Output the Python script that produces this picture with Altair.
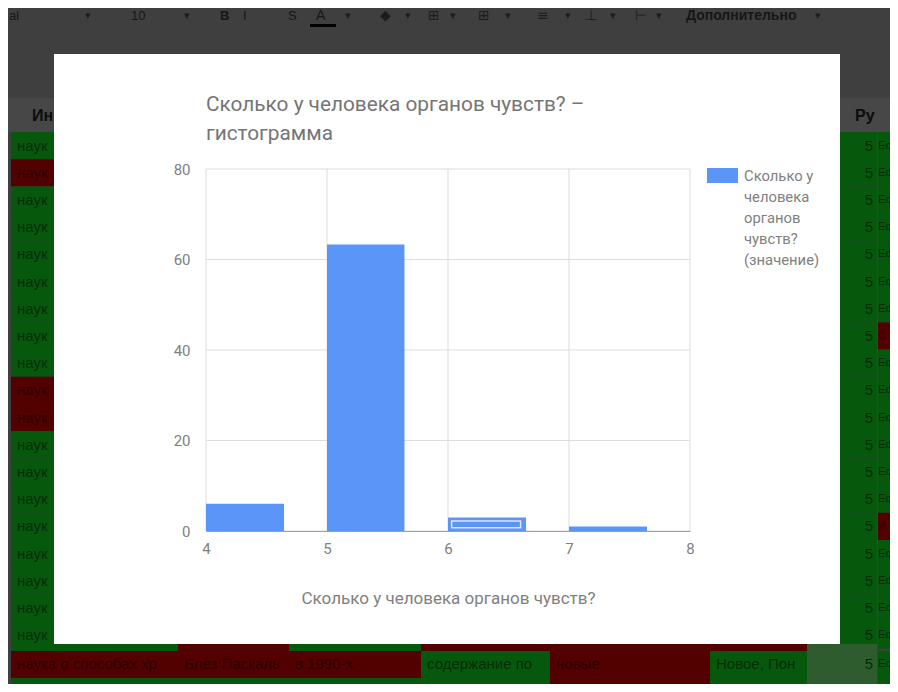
import altair as alt
import pandas as pd

# Chart data
bin_start = [4, 5, 6, 7]
bin_end = [4.645, 5.64, 6.645, 7.645]
counts = [6, 63.3, 3, 1]
x_ticks = [4, 5, 6, 7, 8]
y_ticks = [0, 20, 40, 60, 80]
title_lines = ["Сколько у человека органов чувств? –", "гистограмма"]
x_title = "Сколько у человека органов чувств?"
legend_label = "Сколько у|человека|органов|чувств?|(значение)"
selected_box = {"x": 6.03, "x2": 6.6, "y": 0.7, "y2": 2.2}

# Dimmed spreadsheet behind the dialog
GREEN, RED, SIDE = "#06580c", "#520000", "#2f5c2f"
INK_G, INK_R = "#052c08", "#300000"
left_red_rows = [1, 9, 10]
right_red_rows = [7, 14]
right_words = {7: "С", 14: "И"}
n_rows = 19
toolbar_items = [("al", 9, False, 13), ("10", 131, False, 13), ("B", 220, True, 13), ("I", 243, False, 13),
                 ("S", 288, False, 13), ("A", 316, False, 14), ("Дополнительно", 686, True, 14)]
toolbar_glyphs = [("▾", 85), ("▾", 184), ("▾", 345), ("◆", 380), ("▾", 405), ("⊞", 428), ("▾", 450),
                  ("⊞", 478), ("▾", 505), ("≡", 537), ("▾", 565), ("⊥", 585), ("▾", 610),
                  ("⊢", 635), ("▾", 656), ("▾", 815)]
strip_below = [(11, 178, GREEN), (178, 289, RED), (289, 421, GREEN), (421, 807, RED)]
bottom_a = [("наука о способах хр", 11, 178, RED), ("Блез Паскаль", 178, 289, RED),
            ("в 1990-х", 289, 421, RED), ("содержание по", 421, 550, GREEN),
            ("новые", 550, 710, RED), ("Новое, Пон", 710, 807, GREEN)]
bottom_b = [(11, 178, GREEN), (178, 289, GREEN), (289, 421, GREEN), (421, 550, GREEN),
            (550, 710, RED), (710, 807, GREEN)]

PLOT_L, PLOT_T = 206, 169
PLOT_W, PLOT_H = 484, 362
one = pd.DataFrame({"a": [0]})
layers = []


def box(x0, y0, x1, y1, fill):
    layers.append(alt.Chart(one).mark_rect(fill=fill, stroke=None).encode(
        x=alt.value(x0 - PLOT_L), x2=alt.value(x1 - PLOT_L),
        y=alt.value(y0 - PLOT_T), y2=alt.value(y1 - PLOT_T)))


def label(s, x, y, color, size=14, weight="normal", align="left", font="Roboto", **kw):
    layers.append(alt.Chart(one).mark_text(text=s, color=color, fontSize=size, fontWeight=weight,
                                           align=align, baseline="middle", font=font, **kw).encode(
        x=alt.value(x - PLOT_L), y=alt.value(y - PLOT_T)))


SHEET = "Liberation Sans"
box(8, 8, 890, 684, "#3f3f3f")
box(8, 98, 890, 132, "#474747")
for s, x, bold, size in toolbar_items:
    label(s, x, 16, "#161616", size, "bold" if bold else "normal", font=SHEET)
for s, x in toolbar_glyphs:
    label(s, x, 16, "#1c1c1c", 11 if s == "▾" else 14, font="DejaVu Sans")
box(310, 24, 336, 27, "#000000")
label("Инф", 32, 116, "#0c0c0c", 16, "bold", font=SHEET)
label("Ру", 855, 116, "#0c0c0c", 16, "bold", font=SHEET)

row_h = 27.2
for i in range(n_rows):
    y0 = 132 + i * row_h
    y1 = y0 + row_h
    if y0 >= 644:
        break
    red = i in left_red_rows
    box(11, y0, 178, y1, RED if red else GREEN)
    label("наук", 17, y0 + row_h / 2, INK_R if red else INK_G, 15, font=SHEET)
    box(840, y0, 877, y1, GREEN)
    label("5", 873, y0 + row_h / 2, INK_G, 15, align="right", font=SHEET)
    r_red = i in right_red_rows
    box(878, y0, 890, y1, RED if r_red else GREEN)
    label(right_words.get(i, "Ес"), 878, y0 + row_h / 2, INK_R if r_red else INK_G, 11.5, font=SHEET)

for x0, x1, fill in strip_below:
    box(x0, 644, x1, 651, fill)
box(807, 644, 877, 651, SIDE)

for s, x0, x1, fill in bottom_a:
    box(x0, 651, x1, 678, fill)
    label(s, x0 + 6, 664, INK_R if fill == RED else INK_G, 15, font=SHEET)
for x0, x1, fill in bottom_b:
    box(x0, 678, x1, 684, fill)
box(807, 651, 877, 684, SIDE)
box(878, 651, 890, 684, GREEN)
label("5", 873, 664, INK_G, 15, align="right", font=SHEET)
label("Ес", 878, 664, INK_G, 11.5, font=SHEET)

# Dialog panel
box(54, 54, 840, 644, "#ffffff")

bars = pd.DataFrame({"start": bin_start, "end": bin_end, "count": counts})
x_scale = alt.Scale(domain=[4, 8], nice=False)
y_scale = alt.Scale(domain=[0, 80], nice=False)
x_axis = alt.Axis(values=x_ticks, title=x_title, grid=False, zindex=1,
                  domainColor="#9e9e9e", ticks=False, labelFontSize=15, labelColor="#808080",
                  labelFont="Roboto", labelPadding=10, labelFlush=False, titleFont="Roboto",
                  titleFontSize=17, titleFontWeight="normal", titleColor="#808080",
                  titlePadding=34, format="d", labelOverlap=False)
y_axis = alt.Axis(values=y_ticks, title=None, grid=False, domain=False, zindex=1,
                  ticks=False, labelFontSize=15, labelColor="#808080", labelFont="Roboto",
                  labelPadding=16, format="d")

# Gridlines sit on the panel and under the bars
layers.append(alt.Chart(pd.DataFrame({"t": x_ticks})).mark_rule(color="#dddddd").encode(
    x=alt.X("t:Q", scale=x_scale, axis=x_axis)))
layers.append(alt.Chart(pd.DataFrame({"t": y_ticks})).mark_rule(color="#dddddd").encode(
    y=alt.Y("t:Q", scale=y_scale, axis=y_axis)))

bar_layer = alt.Chart(bars).mark_rect(color="#5b95f7").encode(
    x=alt.X("start:Q", scale=x_scale, axis=x_axis),
    x2="end:Q",
    y=alt.Y("count:Q", scale=y_scale, axis=y_axis),
    y2=alt.Y2(datum=0),
)
sel = pd.DataFrame([selected_box])
sel_layer = alt.Chart(sel).mark_rect(fill="#5b95f7", stroke="#dbe7fc", strokeWidth=1.5).encode(
    x=alt.X("x:Q", scale=x_scale, axis=x_axis), x2="x2:Q",
    y=alt.Y("y:Q", scale=y_scale, axis=y_axis), y2="y2:Q")
layers += [bar_layer, sel_layer]

box(707, 168, 738, 183, "#5b95f7")
label(legend_label, 744, 177, "#808080", 14.8, lineBreak="|", lineHeight=21)
for s, y in zip(title_lines, (105, 134)):
    label(s, 206, y, "#757575", 20.8)

chart = alt.layer(*layers).properties(
    width=PLOT_W, height=PLOT_H,
    padding={"left": PLOT_L - 8, "top": PLOT_T - 8, "right": 890 - PLOT_L - PLOT_W, "bottom": 684 - PLOT_T - PLOT_H},
    autosize=alt.AutoSizeParams(type="none"),
    background="#ffffff",
).configure_view(stroke=None)

chart.save("out.html", embed_options={"renderer": "svg", "actions": False})
